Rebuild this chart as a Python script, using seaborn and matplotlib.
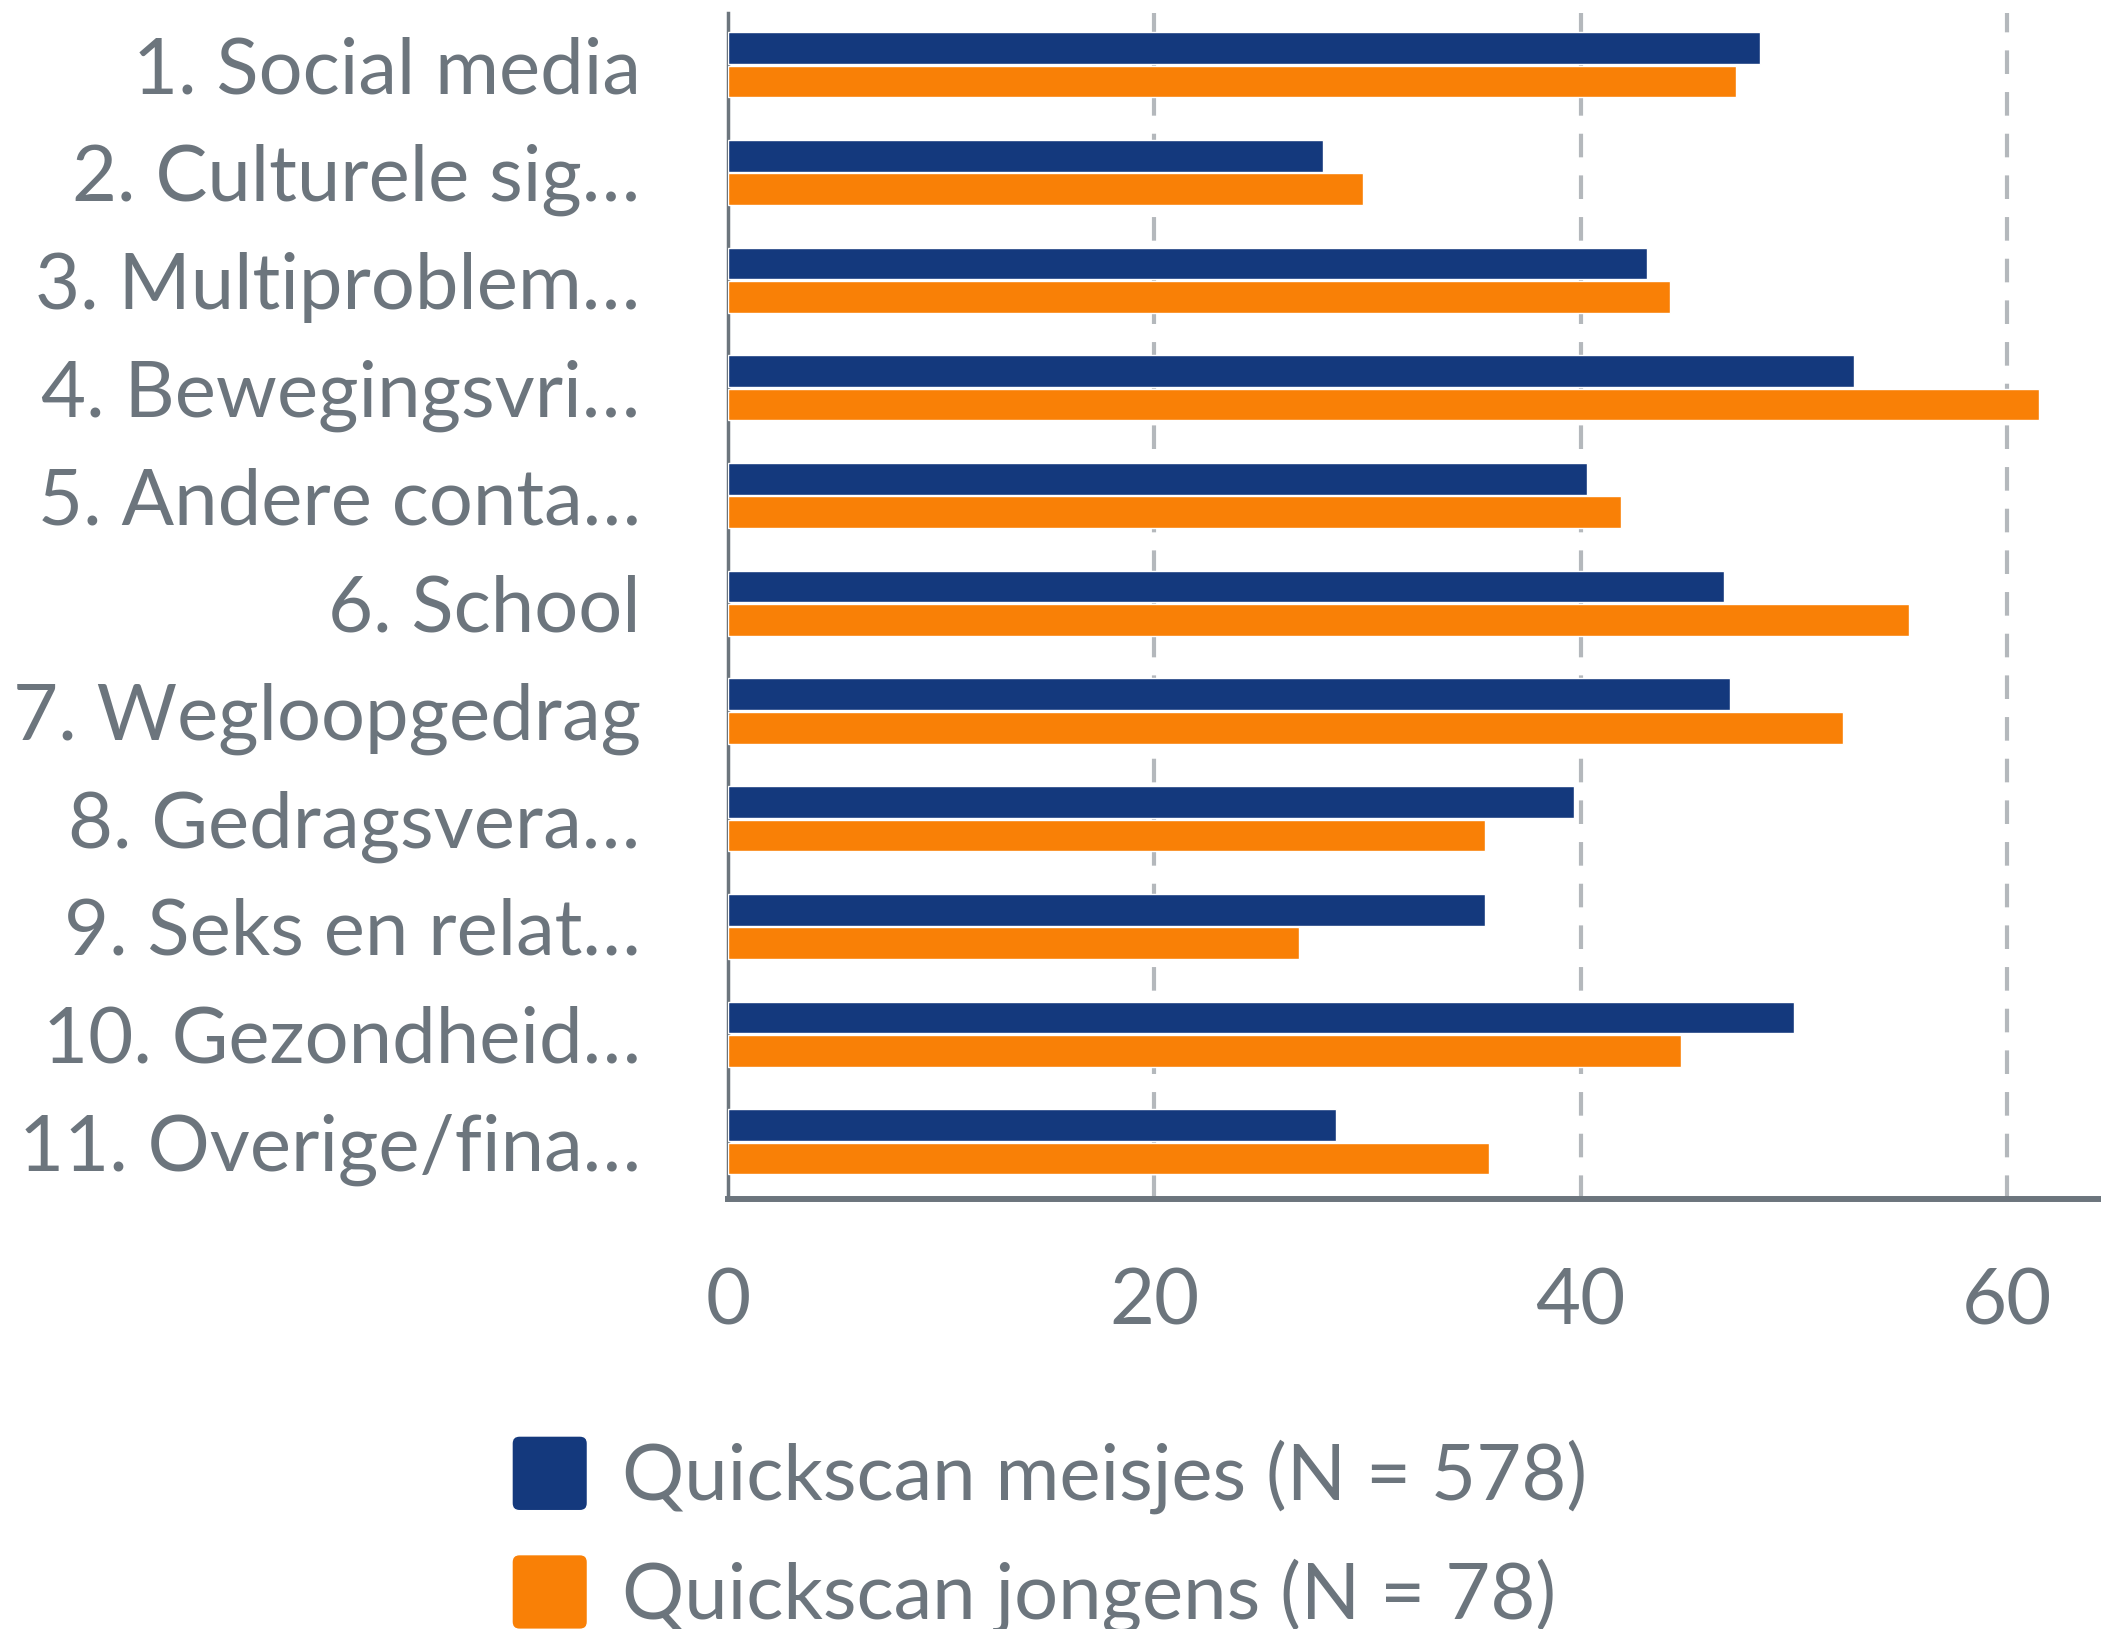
import numpy as np
import pandas as pd
import seaborn as sns
import matplotlib.pyplot as plt
from matplotlib.patches import Patch, FancyBboxPatch
from matplotlib.legend_handler import HandlerPatch

# data
categories = ['1. Social media', '2. Culturele sig…', '3. Multiproblem…', '4. Bewegingsvri…',
              '5. Andere conta…', '6. School', '7. Wegloopgedrag', '8. Gedragsvera…',
              '9. Seks en relat…', '10. Gezondheid…', '11. Overige/fina…']
series_names = ['Quickscan meisjes (N = 578)', 'Quickscan jongens (N = 78)']
meisjes = [48.4, 27.9, 43.1, 52.8, 40.3, 46.7, 47.0, 39.7, 35.5, 50.0, 28.5]
jongens = [47.3, 29.8, 44.2, 61.5, 41.9, 55.4, 52.3, 35.5, 26.8, 44.7, 35.7]
x_ticks = [0, 20, 40, 60]

navy = '#14397d'
orange = '#f98006'
text_grey = '#6c757d'
grid_grey = '#b4b8bc'

df = pd.DataFrame({
    'categorie': categories * 2,
    'waarde': meisjes + jongens,
    'groep': [series_names[0]] * len(categories) + [series_names[1]] * len(categories),
})

sns.set_theme(style='white')
plt.rcParams['font.family'] = ['Lato', 'DejaVu Sans']
plt.rcParams['lines.scale_dashes'] = False
fs = 56

fig = plt.figure(figsize=(21.01, 16.29), dpi=100)
ax = fig.add_axes([728 / 2101, 1 - 1199 / 1629, 1 - 728 / 2101, (1199 - 13) / 1629])

sns.barplot(data=df, y='categorie', x='waarde', hue='groep', orient='h',
            palette=[navy, orange], width=0.62, gap=0.05, saturation=1,
            legend=False, ax=ax, zorder=3)

ax.set_xlim(0, 64.4)
ax.set_ylim(10.53, -0.48)
ax.set_xticks(x_ticks)
ax.set_xlabel('')
ax.set_ylabel('')

# dashed vertical grid, drawn below the bars
ax.set_axisbelow(True)
ax.xaxis.grid(True, color=grid_grey, linewidth=3.0, linestyle=(0, (17, 13)))
ax.yaxis.grid(False)
ax.get_xgridlines()[0].set_visible(False)

for side in ['top', 'right']:
    ax.spines[side].set_visible(False)
ax.spines['left'].set_color(text_grey)
ax.spines['left'].set_linewidth(2.5)
ax.spines['bottom'].set_color(text_grey)
ax.spines['bottom'].set_linewidth(4.3)

ax.tick_params(axis='x', length=0, pad=49, labelsize=fs, labelcolor=text_grey)
ax.tick_params(axis='y', length=0, pad=63, labelsize=fs, labelcolor=text_grey)


def rounded_box(legend, orig_handle, xdescent, ydescent, width, height, fontsize):
    return FancyBboxPatch((-xdescent, -ydescent), width, height,
                          boxstyle='round,pad=0,rounding_size=%f' % (height * 0.1))


handles = [Patch(facecolor=navy), Patch(facecolor=orange)]
fig.legend(handles, series_names, loc='upper left', bbox_to_anchor=(512 / 2101, 1 - 1436 / 1629),
           frameon=False, fontsize=fs, labelcolor=text_grey, borderpad=0, borderaxespad=0,
           handlelength=0.97, handleheight=1.1, handletextpad=0.45, labelspacing=0.52,
           handler_map={Patch: HandlerPatch(patch_func=rounded_box)})

fig.savefig('out.png', dpi=100)
